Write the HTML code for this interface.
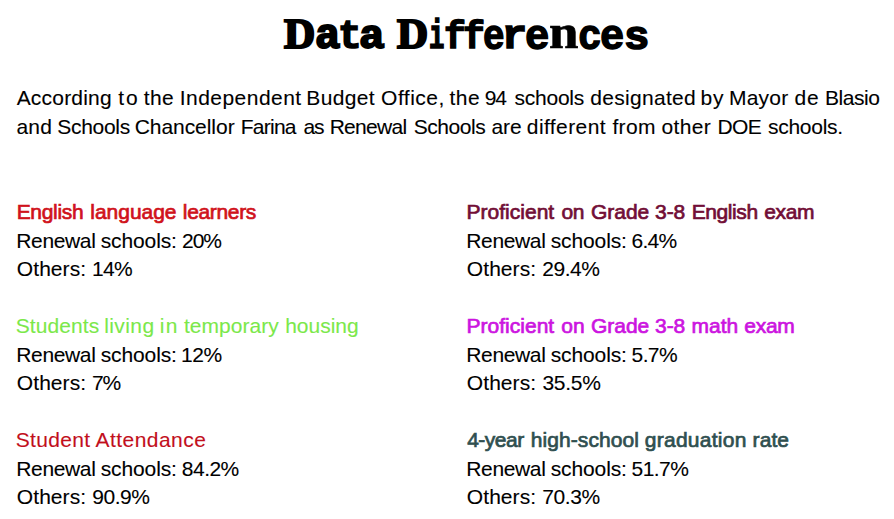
<!DOCTYPE html>
<html>
<head>
<meta charset="utf-8">
<style>
html,body{margin:0;padding:0;background:#fff;}
body{width:894px;height:519px;position:relative;overflow:hidden;font-family:"Liberation Sans",sans-serif;color:#000;}
.l{position:absolute;white-space:nowrap;font-size:21px;line-height:21px;-webkit-text-stroke:0.1px currentColor;}
.w{position:absolute;top:0;white-space:nowrap;}
.d{-webkit-text-stroke:0.7px currentColor;}
.g{position:absolute;font-weight:bold;transform-origin:0 0;white-space:nowrap;}
</style>
</head>
<body>
<div id="title"><span class="g" style="left:284.16px;top:13.64px;font-family:'Liberation Serif',serif;font-size:44px;line-height:44px;-webkit-text-stroke:2.2px #000;transform:scale(0.980,0.941)">D</span><span class="g" style="left:314.75px;top:16.96px;font-family:'Liberation Mono',monospace;font-size:40px;line-height:40px;-webkit-text-stroke:1.9px #000;transform:scale(1.057,1.042)">a</span><span class="g" style="left:338.33px;top:18.36px;font-family:'Liberation Mono',monospace;font-size:40px;line-height:40px;-webkit-text-stroke:1.6px #000;transform:scale(0.984,1.012)">t</span><span class="g" style="left:358.99px;top:16.91px;font-family:'Liberation Mono',monospace;font-size:40px;line-height:40px;-webkit-text-stroke:1.9px #000;transform:scale(1.069,1.034)">a</span><span class="g" style="left:396.62px;top:14.26px;font-family:'Liberation Serif',serif;font-size:44px;line-height:44px;-webkit-text-stroke:2.2px #000;transform:scale(0.979,0.935)">D</span><span class="g" style="left:428.99px;top:16.89px;font-family:'Liberation Mono',monospace;font-size:40px;line-height:40px;-webkit-text-stroke:1.6px #000;transform:scale(0.641,1.034)">i</span><span class="g" style="left:444.15px;top:19.22px;font-family:'Liberation Mono',monospace;font-size:40px;line-height:40px;-webkit-text-stroke:1.4px #000;transform:scale(0.907,0.968)">f</span><span class="g" style="left:462.68px;top:18.94px;font-family:'Liberation Mono',monospace;font-size:40px;line-height:40px;-webkit-text-stroke:1.4px #000;transform:scale(0.912,0.968)">f</span><span class="g" style="left:482.61px;top:17.77px;font-family:'Liberation Mono',monospace;font-size:40px;line-height:40px;-webkit-text-stroke:1.4px #000;transform:scale(0.901,1.044)">e</span><span class="g" style="left:501.96px;top:17.70px;font-family:'Liberation Mono',monospace;font-size:40px;line-height:40px;-webkit-text-stroke:1.6px #000;transform:scale(1.044,0.996)">r</span><span class="g" style="left:525.31px;top:17.78px;font-family:'Liberation Mono',monospace;font-size:40px;line-height:40px;-webkit-text-stroke:1.4px #000;transform:scale(1.018,1.043)">e</span><span class="g" style="left:548.89px;top:8.14px;font-family:'Liberation Serif',serif;font-size:44px;line-height:44px;-webkit-text-stroke:0.6px #000;transform:scale(1.204,1.112)">n</span><span class="g" style="left:578.31px;top:17.78px;font-family:'Liberation Mono',monospace;font-size:40px;line-height:40px;-webkit-text-stroke:1.3px #000;transform:scale(0.989,1.043)">c</span><span class="g" style="left:600.32px;top:17.78px;font-family:'Liberation Mono',monospace;font-size:40px;line-height:40px;-webkit-text-stroke:1.4px #000;transform:scale(1.013,1.043)">e</span><span class="g" style="left:623.63px;top:17.90px;font-family:'Liberation Mono',monospace;font-size:40px;line-height:40px;-webkit-text-stroke:1.6px #000;transform:scale(1.058,1.030)">s</span></div>
<div class="l" id="p1" style="left:16.60px;top:87.00px;"><span class="w" id="p1_0" style="left:0.04px;letter-spacing:0.205px">According</span> <span class="w" id="p1_1" style="left:101.54px;letter-spacing:2.067px">to</span> <span class="w" id="p1_2" style="left:127.20px;letter-spacing:0.343px">the</span> <span class="w" id="p1_3" style="left:163.09px;letter-spacing:0.473px">Independent</span> <span class="w" id="p1_4" style="left:289.75px;letter-spacing:0.344px">Budget</span> <span class="w" id="p1_5" style="left:364.52px;letter-spacing:0.467px">Office,</span> <span class="w" id="p1_6" style="left:432.91px;letter-spacing:0.484px">the</span> <span class="w" id="p1_7" style="left:468.08px;letter-spacing:-1.200px">94</span> <span class="w" id="p1_8" style="left:497.89px;letter-spacing:-0.234px">schools</span> <span class="w" id="p1_9" style="left:573.69px;letter-spacing:0.298px">designated</span> <span class="w" id="p1_10" style="left:683.84px;letter-spacing:0.816px">by</span> <span class="w" id="p1_11" style="left:712.34px;letter-spacing:0.222px">Mayor</span> <span class="w" id="p1_12" style="left:777.99px;letter-spacing:0.808px">de</span> <span class="w" id="p1_13" style="left:808.46px;letter-spacing:-0.471px">Blasio</span></div>
<div class="l" id="p2" style="left:17.00px;top:116.00px;"><span class="w" id="p2_0" style="left:-0.52px;letter-spacing:0.194px">and</span> <span class="w" id="p2_1" style="left:40.23px;letter-spacing:-0.297px">Schools</span> <span class="w" id="p2_2" style="left:117.63px;letter-spacing:-0.043px">Chancellor</span> <span class="w" id="p2_3" style="left:223.76px;letter-spacing:-0.758px">Farina</span> <span class="w" id="p2_4" style="left:286.44px;letter-spacing:-1.200px">as</span> <span class="w" id="p2_5" style="left:312.63px;letter-spacing:-0.712px">Renewal</span> <span class="w" id="p2_6" style="left:396.77px;letter-spacing:-0.453px">Schools</span> <span class="w" id="p2_7" style="left:474.44px;letter-spacing:-0.094px">are</span> <span class="w" id="p2_8" style="left:509.83px;letter-spacing:0.405px">different</span> <span class="w" id="p2_9" style="left:595.46px;letter-spacing:0.329px">from</span> <span class="w" id="p2_10" style="left:644.58px;letter-spacing:0.351px">other</span> <span class="w" id="p2_11" style="left:700.47px;letter-spacing:-0.598px">DOE</span> <span class="w" id="p2_12" style="left:750.98px;letter-spacing:-0.272px">schools.</span></div>
<div class="l d" id="h1" style="left:17.80px;top:201.00px;color:#d0121b;"><span class="w" id="h1_0" style="left:-1.11px;letter-spacing:-0.328px">English</span> <span class="w" id="h1_1" style="left:72.54px;letter-spacing:-0.032px">language</span> <span class="w" id="h1_2" style="left:165.03px;letter-spacing:-0.337px">learners</span></div>
<div class="l" id="a1" style="left:17.50px;top:230.00px;"><span class="w" id="a1_0" style="left:-1.25px;letter-spacing:-0.351px">Renewal</span> <span class="w" id="a1_1" style="left:83.14px;letter-spacing:-0.103px">schools:</span> <span class="w" id="a1_2" style="left:164.58px;letter-spacing:-1.043px">20%</span></div>
<div class="l" id="b1" style="left:17.00px;top:258.00px;"><span class="w" id="b1_0" style="left:-0.16px;letter-spacing:0.060px">Others:</span> <span class="w" id="b1_1" style="left:75.03px;letter-spacing:-0.729px">14%</span></div>
<div class="l" id="h2" style="left:17.00px;top:315.00px;color:#7be84a;"><span class="w" id="h2_0" style="left:-1.36px;letter-spacing:0.095px">Students</span> <span class="w" id="h2_1" style="left:87.14px;letter-spacing:0.427px">living</span> <span class="w" id="h2_2" style="left:142.80px;letter-spacing:1.221px">in</span> <span class="w" id="h2_3" style="left:166.95px;letter-spacing:0.038px">temporary</span> <span class="w" id="h2_4" style="left:268.23px;letter-spacing:-0.027px">housing</span></div>
<div class="l" id="a2" style="left:17.50px;top:344.00px;"><span class="w" id="a2_0" style="left:-1.25px;letter-spacing:-0.351px">Renewal</span> <span class="w" id="a2_1" style="left:83.14px;letter-spacing:-0.103px">schools:</span> <span class="w" id="a2_2" style="left:163.60px;letter-spacing:-0.537px">12%</span></div>
<div class="l" id="b2" style="left:17.00px;top:372.00px;"><span class="w" id="b2_0" style="left:-0.16px;letter-spacing:0.060px">Others:</span> <span class="w" id="b2_1" style="left:74.99px;letter-spacing:-1.200px">7%</span></div>
<div class="l" id="h3" style="left:17.00px;top:429.00px;color:#c20f1c;"><span class="w" id="h3_0" style="left:-1.25px;letter-spacing:0.338px">Student</span> <span class="w" id="h3_1" style="left:78.58px;letter-spacing:0.449px">Attendance</span></div>
<div class="l" id="a3" style="left:17.50px;top:458.00px;"><span class="w" id="a3_0" style="left:-1.25px;letter-spacing:-0.351px">Renewal</span> <span class="w" id="a3_1" style="left:83.14px;letter-spacing:-0.103px">schools:</span> <span class="w" id="a3_2" style="left:164.35px;letter-spacing:-0.534px">84.2%</span></div>
<div class="l" id="b3" style="left:17.00px;top:486.00px;"><span class="w" id="b3_0" style="left:-0.16px;letter-spacing:0.060px">Others:</span> <span class="w" id="b3_1" style="left:75.24px;letter-spacing:-0.440px">90.9%</span></div>
<div class="l d" id="h4" style="left:468.00px;top:201.00px;color:#720e36;"><span class="w" id="h4_0" style="left:-1.58px;letter-spacing:0.025px">Proficient</span> <span class="w" id="h4_1" style="left:93.44px;letter-spacing:-0.273px">on</span> <span class="w" id="h4_2" style="left:123.08px;letter-spacing:-0.043px">Grade</span> <span class="w" id="h4_3" style="left:187.11px;letter-spacing:-0.124px">3-8</span> <span class="w" id="h4_4" style="left:223.70px;letter-spacing:-0.409px">English</span> <span class="w" id="h4_5" style="left:296.26px;letter-spacing:-0.360px">exam</span></div>
<div class="l" id="a4" style="left:468.00px;top:230.00px;"><span class="w" id="a4_0" style="left:-1.75px;letter-spacing:-0.351px">Renewal</span> <span class="w" id="a4_1" style="left:82.64px;letter-spacing:-0.103px">schools:</span> <span class="w" id="a4_2" style="left:163.55px;letter-spacing:-0.735px">6.4%</span></div>
<div class="l" id="b4" style="left:468.00px;top:258.00px;"><span class="w" id="b4_0" style="left:-1.16px;letter-spacing:0.060px">Others:</span> <span class="w" id="b4_1" style="left:74.36px;letter-spacing:-0.489px">29.4%</span></div>
<div class="l d" id="h5" style="left:468.00px;top:315.00px;color:#cc14e0;"><span class="w" id="h5_0" style="left:-1.56px;letter-spacing:0.019px">Proficient</span> <span class="w" id="h5_1" style="left:93.24px;letter-spacing:0.187px">on</span> <span class="w" id="h5_2" style="left:123.09px;letter-spacing:-0.058px">Grade</span> <span class="w" id="h5_3" style="left:187.11px;letter-spacing:-0.134px">3-8</span> <span class="w" id="h5_4" style="left:223.46px;letter-spacing:0.015px">math</span> <span class="w" id="h5_5" style="left:276.30px;letter-spacing:-0.276px">exam</span></div>
<div class="l" id="a5" style="left:468.00px;top:344.00px;"><span class="w" id="a5_0" style="left:-1.75px;letter-spacing:-0.351px">Renewal</span> <span class="w" id="a5_1" style="left:82.64px;letter-spacing:-0.103px">schools:</span> <span class="w" id="a5_2" style="left:163.58px;letter-spacing:-0.626px">5.7%</span></div>
<div class="l" id="b5" style="left:468.00px;top:372.00px;"><span class="w" id="b5_0" style="left:-1.16px;letter-spacing:0.060px">Others:</span> <span class="w" id="b5_1" style="left:74.38px;letter-spacing:-0.273px">35.5%</span></div>
<div class="l d" id="h6" style="left:467.00px;top:429.00px;color:#2f4f4f;"><span class="w" id="h6_0" style="left:0.16px;letter-spacing:-0.491px">4-year</span> <span class="w" id="h6_1" style="left:63.81px;letter-spacing:0.073px">high-school</span> <span class="w" id="h6_2" style="left:177.80px;letter-spacing:0.254px">graduation</span> <span class="w" id="h6_3" style="left:285.58px;letter-spacing:0.090px">rate</span></div>
<div class="l" id="a6" style="left:468.00px;top:458.00px;"><span class="w" id="a6_0" style="left:-1.75px;letter-spacing:-0.351px">Renewal</span> <span class="w" id="a6_1" style="left:82.64px;letter-spacing:-0.103px">schools:</span> <span class="w" id="a6_2" style="left:163.55px;letter-spacing:-0.550px">51.7%</span></div>
<div class="l" id="b6" style="left:468.00px;top:486.00px;"><span class="w" id="b6_0" style="left:-1.16px;letter-spacing:0.060px">Others:</span> <span class="w" id="b6_1" style="left:74.30px;letter-spacing:-0.396px">70.3%</span></div>
</body>
</html>
